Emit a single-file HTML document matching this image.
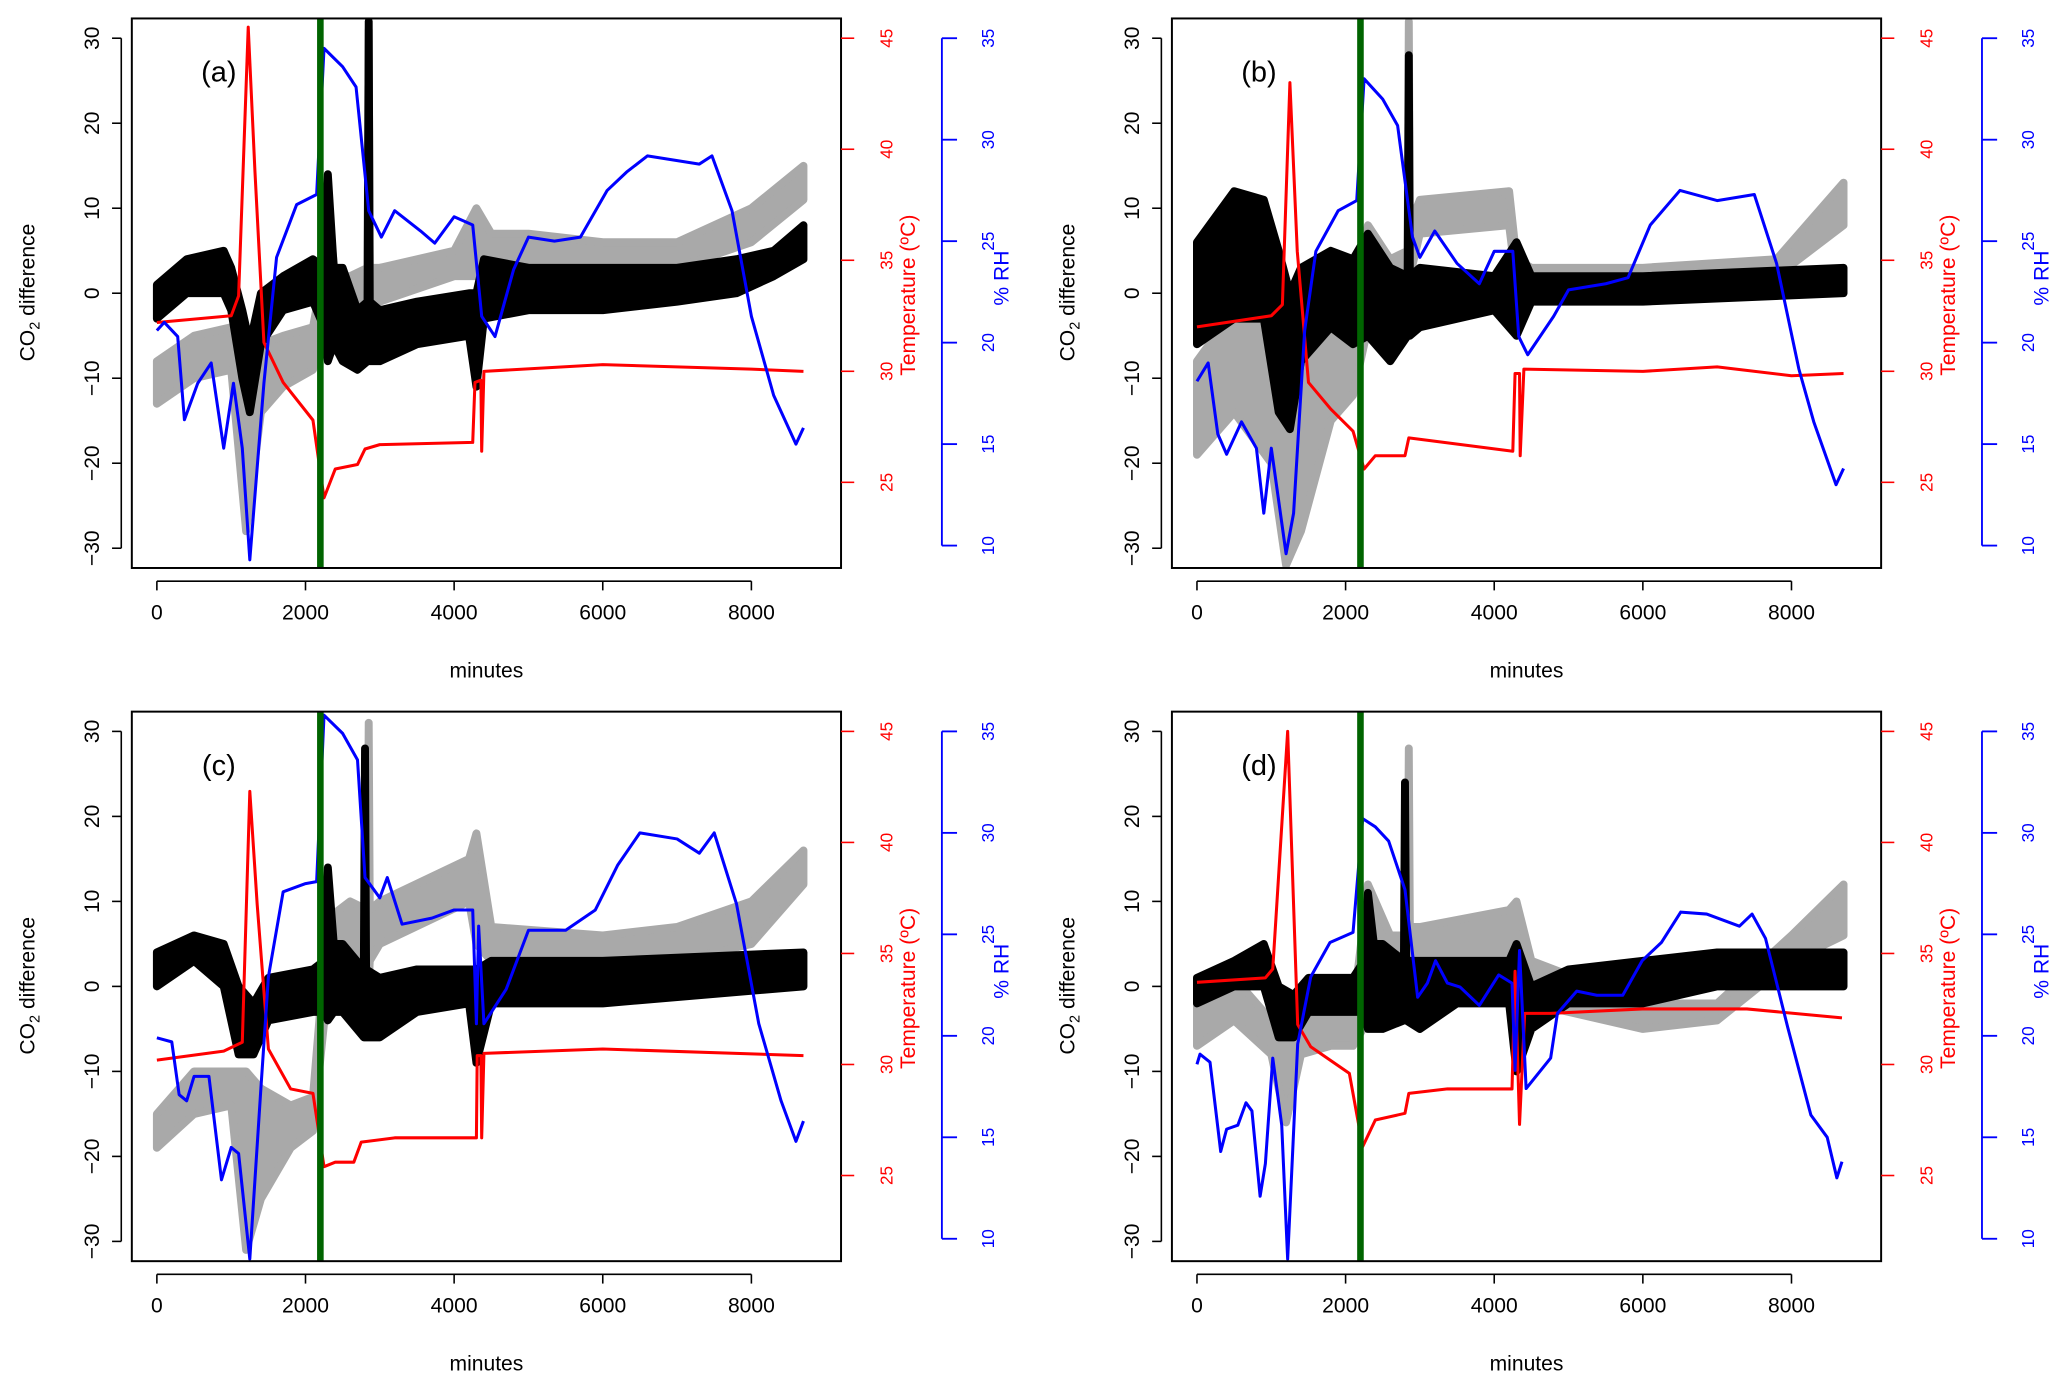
<!DOCTYPE html>
<html><head><meta charset="utf-8"><style>
html,body{margin:0;padding:0;background:#fff}
svg{display:block}
text{font-family:"Liberation Sans",Arial,sans-serif}
</style></head><body>
<svg id="fig" width="2067" height="1389" viewBox="0 0 1568 1054" preserveAspectRatio="none" xmlns="http://www.w3.org/2000/svg">
<rect x="0" y="0" width="1568" height="1054" fill="#fff"/>
</svg>
<script>
// ---------- DATA ----------
const panelLabels = ["(a)","(b)","(c)","(d)"];
const xTicks = [0,2000,4000,6000,8000];
const co2Ticks = [-30,-20,-10,0,10,20,30];
const tempTicks = [25,30,35,40,45];
const rhTicks = [10,15,20,25,30,35];
const treatmentMinute = 2200;

// RH series: [minute, %RH]
const rhA = [[0,20.6],[100,21],[280,20.3],[370,16.2],[550,18],[730,19],[900,14.8],[1030,18],[1150,14.8],[1250,9.3],[1440,18],[1610,24.2],[1880,26.8],[2150,27.3],[2250,34.5],[2500,33.6],[2680,32.6],[2850,26.5],[3020,25.2],[3200,26.5],[3550,25.5],[3740,24.9],[4000,26.2],[4250,25.8],[4370,21.3],[4550,20.3],[4800,23.6],[5000,25.2],[5350,25],[5700,25.2],[6060,27.5],[6320,28.4],[6600,29.2],[6950,29],[7300,28.8],[7470,29.2],[7740,26.5],[8000,21.3],[8300,17.4],[8600,15],[8700,15.8]];
const rhB = [[0,18.1],[150,19],[280,15.5],[400,14.5],[600,16.1],[800,14.8],[900,11.6],[1000,14.8],[1100,12.2],[1200,9.6],[1300,11.6],[1450,20.6],[1600,24.5],[1900,26.5],[2150,27],[2250,33],[2500,32],[2700,30.7],[2900,25.2],[3000,24.2],[3200,25.5],[3500,23.9],[3800,22.9],[4000,24.5],[4250,24.5],[4330,20.3],[4450,19.4],[4800,21.3],[5000,22.6],[5500,22.9],[5800,23.2],[6100,25.8],[6500,27.5],[7000,27],[7500,27.3],[7800,23.9],[8100,18.7],[8300,16.1],[8600,13],[8700,13.8]];
const rhC = [[0,19.9],[200,19.7],[300,17.1],[400,16.8],[500,18],[700,18],[870,12.9],[1000,14.5],[1100,14.2],[1250,9],[1400,17.4],[1500,22.9],[1700,27.1],[2000,27.5],[2150,27.6],[2250,35.8],[2500,34.9],[2700,33.6],[2800,27.8],[3000,26.8],[3100,27.8],[3300,25.5],[3700,25.8],[4000,26.2],[4250,26.2],[4300,20.6],[4330,25.4],[4400,20.6],[4700,22.3],[5000,25.2],[5500,25.2],[5900,26.2],[6200,28.4],[6500,30],[7000,29.7],[7300,29],[7500,30],[7800,26.5],[8100,20.6],[8400,16.8],[8600,14.8],[8700,15.8]];
const rhD = [[0,18.6],[40,19.1],[175,18.7],[320,14.3],[400,15.4],[550,15.6],[660,16.7],[740,16.3],[850,12.1],[920,13.7],[1020,18.9],[1140,15.6],[1220,9],[1355,19.6],[1530,22.9],[1790,24.6],[2100,25.1],[2230,30.7],[2400,30.3],[2580,29.6],[2800,27.2],[2970,21.9],[3100,22.6],[3210,23.7],[3370,22.6],[3540,22.4],[3800,21.5],[4060,23],[4240,22.6],[4280,18.3],[4340,24.2],[4430,17.4],[4760,18.9],[4850,21.1],[5110,22.2],[5380,22],[5730,22],[5990,23.7],[6250,24.6],[6510,26.1],[6860,26],[7300,25.4],[7470,26],[7650,24.8],[7950,20.4],[8260,16.1],[8480,15],[8610,13],[8680,13.8]];

// Temperature series: [minute, °C]
const tA = [[0,32.2],[1000,32.5],[1100,33.4],[1230,45.5],[1320,39],[1440,31.3],[1700,29.5],[2100,27.8],[2250,24.3],[2400,25.6],[2700,25.8],[2800,26.5],[3000,26.7],[4250,26.8],[4280,29.5],[4360,29.6],[4370,26.4],[4400,30],[6000,30.3],[8000,30.1],[8700,30]];
const tB = [[0,32],[1000,32.5],[1150,33],[1250,43],[1350,35.4],[1500,29.5],[1800,28.3],[2100,27.3],[2250,25.6],[2400,26.2],[2800,26.2],[2850,27],[4250,26.4],[4280,29.9],[4340,29.9],[4350,26.2],[4400,30.1],[6000,30],[7000,30.2],[8000,29.8],[8700,29.9]];
const tC = [[0,30.2],[900,30.6],[1150,31],[1250,42.3],[1350,37.2],[1500,30.7],[1800,28.9],[2100,28.7],[2250,25.4],[2400,25.6],[2650,25.6],[2750,26.5],[3200,26.7],[4300,26.7],[4310,30.4],[4360,30.4],[4370,26.7],[4400,30.5],[6000,30.7],[8700,30.4]];
const tD = [[0,33.7],[920,33.9],[1020,34.3],[1220,45],[1355,31.8],[1530,30.8],[2050,29.6],[2230,26.3],[2400,27.5],[2800,27.8],[2850,28.7],[3370,28.9],[4240,28.9],[4280,34.2],[4340,27.3],[4410,32.3],[4760,32.3],[5990,32.5],[7400,32.5],[8680,32.1]];

// Black CO2 difference band: [minute, low, high]
const blackA = [[0,-3,1],[400,0,4],[900,0,5],[1000,-2,3],[1150,-10,-2],[1250,-14,-6],[1400,-6,0],[1700,-2,2],[2100,-1,4],[2250,-4,3],[2300,-8,14],[2380,-6,3],[2500,-8,3],[2700,-9,-2],[2835,-8,-1],[2850,-8,32],[2865,-8,-1],[3000,-8,-2],[3500,-6,-1],[4200,-5,0],[4300,-11,0],[4400,-3,4],[5000,-2,3],[6000,-2,3],[7000,-1,3],[7800,0,4],[8300,2,5],[8700,4,8]];
const blackB = [[0,-6,6],[500,-3,12],[900,-3,11],[1100,-14,5],[1250,-16,0],[1400,-8,3],[1800,-4,5],[2100,-6,4],[2300,-5,7],[2600,-8,3],[2835,-5,2],[2850,-5,28],[2865,-5,2],[3000,-4,3],[4000,-2,2],[4300,-5,6],[4500,-1,2],[6000,-1,2],[8700,0,3]];
const blackC = [[0,0,4],[500,3,6],[900,0,5],[1100,-8,0],[1300,-8,-2],[1500,-4,1],[2100,-3,2],[2250,-3,3],[2300,-4,14],[2380,-3,5],[2500,-3,5],[2785,-6,2],[2800,-6,28],[2815,-6,2],[3000,-6,1],[3500,-3,2],[4200,-2,2],[4300,-9,2],[4500,-2,3],[6000,-2,3],[8700,0,4]];
const blackD = [[0,-2,1],[500,0,3],[900,0,5],[1100,-6,0],[1300,-6,-1],[1500,-3,1],[2100,-3,1],[2250,-3,3],[2300,-5,11],[2380,-5,5],[2500,-5,5],[2785,-4,3],[2800,-4,24],[2815,-4,3],[3000,-5,3],[3500,-2,3],[4200,-2,3],[4300,-10,5],[4500,-5,0],[5000,-2,2],[6000,-2,3],[7000,0,4],[8700,0,4]];

// Grey CO2 difference band: [minute, low, high]
const greyA = [[0,-13,-8],[500,-10,-5],[1000,-9,-4],[1200,-28,-10],[1400,-14,-6],[1700,-11,-5],[2100,-9,-4],[2250,-4,3],[2300,-4,10],[2400,-3,2],[2600,-3,2],[2835,-2,3],[2850,-2,31],[2865,-2,3],[3000,-1,3],[4000,2,5],[4300,2,10],[4500,3,7],[5000,3,7],[6000,3,6],[7000,3,6],[8000,6,10],[8700,11,15]];
const greyB = [[0,-19,-8],[500,-14,-2],[1000,-20,-3],[1200,-32,-8],[1400,-28,-5],[1800,-15,-5],[2100,-12,-2],[2300,-4,8],[2600,-1,4],[2835,0,5],[2850,0,32],[2865,2,8],[3000,7,11],[4200,8,12],[4300,1,4],[4500,0,3],[6000,0,3],[7800,2,4],[8700,8,13]];
const greyC = [[0,-19,-15],[500,-15,-10],[1000,-14,-10],[1200,-31,-10],[1400,-25,-12],[1800,-19,-14],[2100,-17,-13],[2300,0,8],[2600,-3,10],[2835,0,9],[2850,0,31],[2865,3,9],[3000,5,10],[4200,10,15],[4300,5,18],[4500,3,7],[6000,3,6],[7000,3,7],[8000,5,10],[8700,12,16]];
const greyD = [[0,-7,-2],[500,-4,1],[1000,-8,-4],[1200,-16,-6],[1400,-8,-4],[1800,-7,-3],[2100,-7,-3],[2300,-4,12],[2600,0,6],[2835,0,6],[2850,0,28],[2865,0,7],[3000,0,7],[4200,3,9],[4300,4,10],[4500,-2,3],[6000,-5,-2],[7000,-4,-2],[8000,3,6],[8700,6,12]];

const rhSeries = [rhA,rhB,rhC,rhD];
const tempSeries = [tA,tB,tC,tD];
const blackSeries = [blackA,blackB,blackC,blackD];
const greySeries = [greyA,greyB,greyC,greyD];

// ---------- DRAW ----------
const NS = "http://www.w3.org/2000/svg";
const svg = document.getElementById('fig');
function mk(tag, attrs, parent){
  const e = document.createElementNS(NS, tag);
  for (const k in attrs) e.setAttribute(k, attrs[k]);
  (parent||svg).appendChild(e);
  return e;
}
const origins = [[0,0],[789,0],[0,526],[789,526]];

origins.forEach((o,i)=>{
  const ox=o[0], oy=o[1];
  const xs = m => ox + 119 + m*0.056375;
  const ys = v => oy + 222.5 - v*6.45;
  const yt = t => oy + 366 - (t-25)*16.85;
  const yr = r => oy + 414 - (r-10)*15.4;
  const g = mk('g', {});
  
  
  const cp = mk('clipPath', {id:'clip'+i}, g);
  mk('rect', {x:ox+100, y:oy+14, width:538, height:417}, cp);
  const plot = mk('g', {'clip-path':'url(#clip'+i+')'}, g);

  function band(data, color, name){
    const top = data.map(d=>xs(d[0]).toFixed(1)+','+ys(d[2]).toFixed(1));
    const bot = data.slice().reverse().map(d=>xs(d[0]).toFixed(1)+','+ys(d[1]).toFixed(1));
    const p = mk('polygon', {points: top.concat(bot).join(' '), fill:color, stroke:color, 'stroke-width':6, 'stroke-linejoin':'round'}, plot);
    
    
  }
  band(greySeries[i], '#a9a9a9', 'grey-co2-points');
  band(blackSeries[i], '#000', 'black-co2-points');

  function line(data, yf, color, name){
    const p = mk('polyline', {points: data.map(d=>xs(d[0]).toFixed(1)+','+yf(d[1]).toFixed(1)).join(' '), fill:'none', stroke:color, 'stroke-width':2.3, 'stroke-linejoin':'round'}, plot);
    
    
  }
  line(tempSeries[i], yt, '#ff0000', 'temperature-line');
  line(rhSeries[i], yr, '#0000ff', 'rh-line');

  const gl = mk('line', {x1:xs(treatmentMinute), x2:xs(treatmentMinute), y1:oy+14, y2:oy+431, stroke:'#006400', 'stroke-width':5}, g);
  
  

  const box = mk('rect', {x:ox+100, y:oy+14, width:538, height:417, fill:'none', stroke:'#000', 'stroke-width':1.5}, g);
  
  

  // left axis
  mk('line', {x1:ox+92, x2:ox+92, y1:ys(-30), y2:ys(30), stroke:'#000','stroke-width':1.2}, g);
  co2Ticks.forEach(v=>{
    mk('line', {x1:ox+85, x2:ox+92, y1:ys(v), y2:ys(v), stroke:'#000','stroke-width':1.2}, g);
    const t = mk('text', {x:0, y:0, transform:`translate(${ox+75},${ys(v)}) rotate(-90)`, 'text-anchor':'middle', 'font-size':16}, g);
    t.textContent = (v<0?'\u2212':'') + Math.abs(v);
    
    
  });
  const yt1 = mk('text', {transform:`translate(${ox+26},${oy+222}) rotate(-90)`, 'text-anchor':'middle', 'font-size':16}, g);
  yt1.innerHTML = 'CO<tspan font-size="11" dy="4">2</tspan><tspan dy="-4"> difference</tspan>';
  
  

  // x axis
  mk('line', {x1:xs(0), x2:xs(8000), y1:oy+441, y2:oy+441, stroke:'#000','stroke-width':1.2}, g);
  xTicks.forEach(m=>{
    mk('line', {x1:xs(m), x2:xs(m), y1:oy+441, y2:oy+448, stroke:'#000','stroke-width':1.2}, g);
    const t = mk('text', {x:xs(m), y:oy+470, 'text-anchor':'middle', 'font-size':16}, g);
    t.textContent = m;
    
    
  });
  const xt = mk('text', {x:ox+369, y:oy+514, 'text-anchor':'middle', 'font-size':16}, g);
  xt.textContent = 'minutes';
  
  

  // temperature axis
  tempTicks.forEach(v=>{
    mk('line', {x1:ox+638, x2:ox+648, y1:yt(v), y2:yt(v), stroke:'#ff0000','stroke-width':1.2}, g);
    const t = mk('text', {transform:`translate(${ox+677},${yt(v)}) rotate(-90)`, 'text-anchor':'middle', 'font-size':13, fill:'#ff0000'}, g);
    t.textContent = v;
    
    
  });
  const tt = mk('text', {transform:`translate(${ox+694},${oy+224}) rotate(-90)`, 'text-anchor':'middle', 'font-size':16, fill:'#ff0000'}, g);
  tt.textContent = 'Temperature (\u00BAC)';
  
  

  // RH axis
  mk('line', {x1:ox+714.5, x2:ox+714.5, y1:yr(10), y2:yr(35), stroke:'#0000ff','stroke-width':1.4}, g);
  rhTicks.forEach(v=>{
    mk('line', {x1:ox+714.5, x2:ox+726, y1:yr(v), y2:yr(v), stroke:'#0000ff','stroke-width':1.4}, g);
    const t = mk('text', {transform:`translate(${ox+754},${yr(v)}) rotate(-90)`, 'text-anchor':'middle', 'font-size':13, fill:'#0000ff'}, g);
    t.textContent = v;
    
    
  });
  const rt = mk('text', {transform:`translate(${ox+765},${oy+211}) rotate(-90)`, 'text-anchor':'middle', 'font-size':16, fill:'#0000ff'}, g);
  rt.textContent = '% RH';
  
  

  const pl = mk('text', {x:ox+166, y:oy+62, 'text-anchor':'middle', 'font-size':22}, g);
  pl.textContent = panelLabels[i];
  
  
});
</script>
</body></html>
